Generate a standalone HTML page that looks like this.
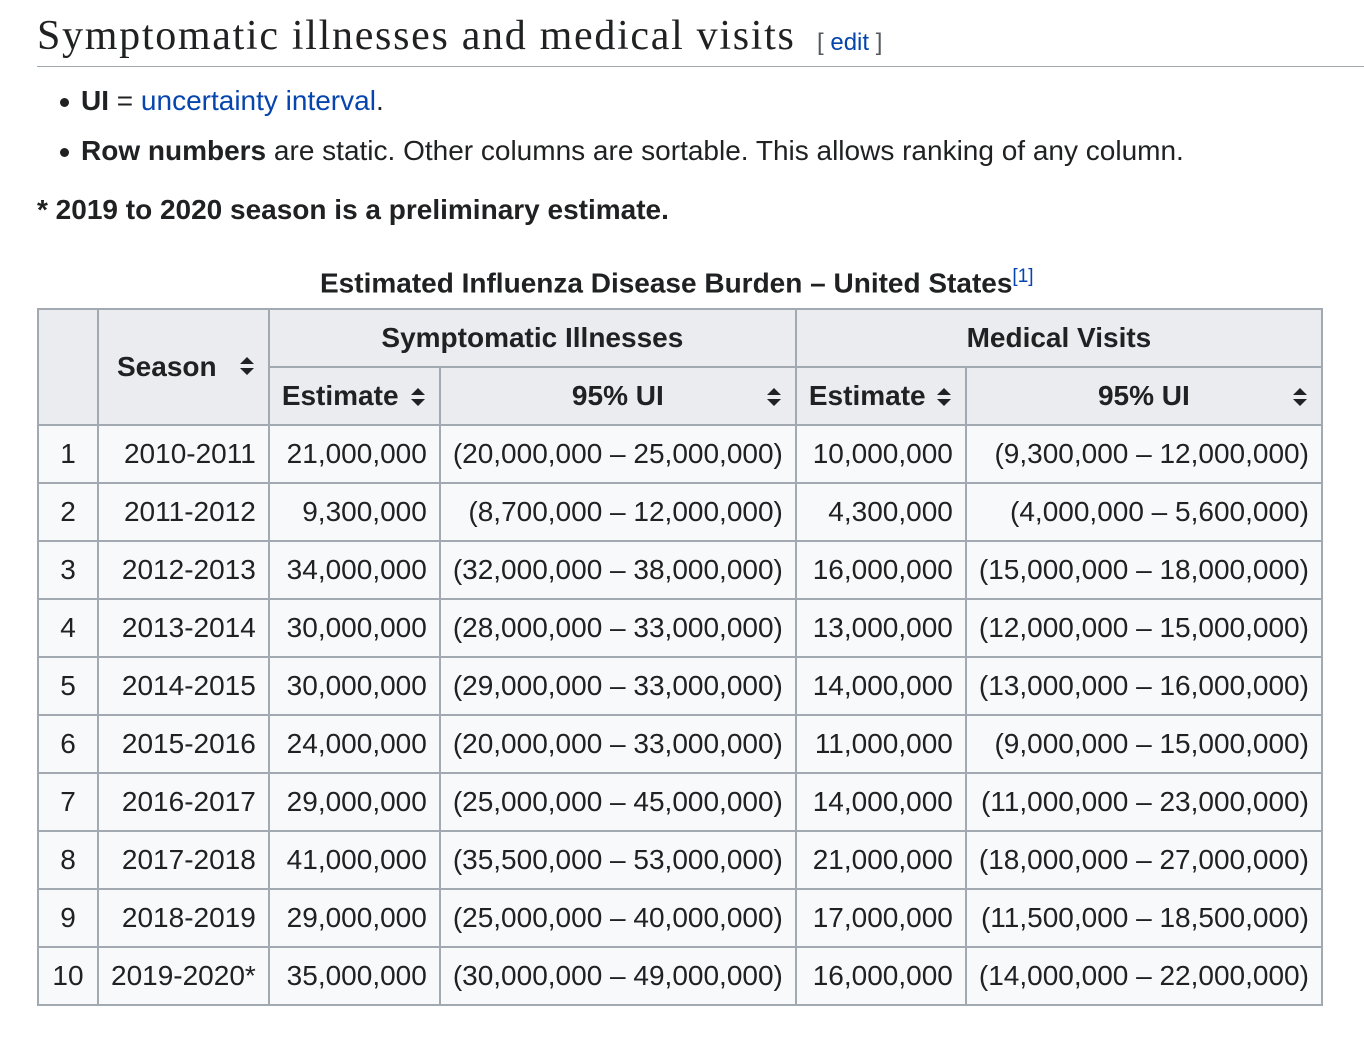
<!DOCTYPE html>
<html><head><meta charset="utf-8"><style>
body{margin:0;background:#fff;width:1364px;height:1046px;overflow:hidden;font-family:"Liberation Sans",sans-serif;color:#202122;}
.h{position:absolute;left:37px;top:12px;font-family:"Liberation Serif",serif;font-size:42px;letter-spacing:1.7px;white-space:nowrap;}
.edit{position:absolute;left:817px;top:29px;font-size:24px;color:#54595d;}
.edit a{color:#0645ad;}
.rule{position:absolute;left:37px;top:66px;width:1327px;height:1px;background:#a2a9b1;}
.t{position:absolute;font-size:28px;white-space:nowrap;}
.dot{position:absolute;width:9px;height:9px;border-radius:50%;background:#202122;}
a{color:#0645ad;text-decoration:none;}
table{position:absolute;left:37px;top:308px;border-collapse:collapse;table-layout:fixed;font-size:28px;background:#f8f9fa;}
td,th{border:2px solid #a2a9b1;padding:0 12px;height:56px;white-space:nowrap;}
th{background:#eaecf0;font-weight:bold;position:relative;}
td{text-align:right;}
td.c{text-align:center;}
.s{position:absolute;right:14px;top:20px;}
.s2{position:absolute;right:14px;top:47px;}
</style></head><body>
<div class="h">Symptomatic illnesses and medical visits</div>
<div class="edit">[ <a>edit</a> ]</div>
<div class="rule"></div>
<div class="dot" style="left:60px;top:98px"></div>
<div class="t" style="left:81px;top:85px"><b>UI</b> = <a>uncertainty interval</a>.</div>
<div class="dot" style="left:60px;top:148px"></div>
<div class="t" style="left:81px;top:135px"><b>Row numbers</b> are static. Other columns are sortable. This allows ranking of any column.</div>
<div class="t" style="left:37px;top:194px"><b>* 2019 to 2020 season is a preliminary estimate.</b></div>
<div class="t" style="left:320px;top:266px"><b>Estimated Influenza Disease Burden – United States</b><sup style="font-size:19px;color:#0645ad">[1]</sup></div>
<table>
<colgroup><col style="width:60px"><col style="width:168px"><col style="width:171px"><col style="width:354px"><col style="width:170px"><col style="width:354px"></colgroup>
<tr><th rowspan="2"></th><th rowspan="2" style="text-align:left;padding-left:18px">Season<svg class="s2" width="14" height="18" viewBox="0 0 14 18"><path d="M7 0L14 7H0Z M7 18L0 11H14Z" fill="#202122"/></svg></th><th colspan="2">Symptomatic Illnesses</th><th colspan="2">Medical Visits</th></tr>
<tr><th style="text-align:left">Estimate<svg class="s" width="14" height="18" viewBox="0 0 14 18"><path d="M7 0L14 7H0Z M7 18L0 11H14Z" fill="#202122"/></svg></th><th>95% UI<svg class="s" width="14" height="18" viewBox="0 0 14 18"><path d="M7 0L14 7H0Z M7 18L0 11H14Z" fill="#202122"/></svg></th><th style="text-align:left">Estimate<svg class="s" width="14" height="18" viewBox="0 0 14 18"><path d="M7 0L14 7H0Z M7 18L0 11H14Z" fill="#202122"/></svg></th><th>95% UI<svg class="s" width="14" height="18" viewBox="0 0 14 18"><path d="M7 0L14 7H0Z M7 18L0 11H14Z" fill="#202122"/></svg></th></tr>
<tr><td class="c">1</td><td>2010-2011</td><td>21,000,000</td><td>(20,000,000 – 25,000,000)</td><td>10,000,000</td><td>(9,300,000 – 12,000,000)</td></tr>
<tr><td class="c">2</td><td>2011-2012</td><td>9,300,000</td><td>(8,700,000 – 12,000,000)</td><td>4,300,000</td><td>(4,000,000 – 5,600,000)</td></tr>
<tr><td class="c">3</td><td>2012-2013</td><td>34,000,000</td><td>(32,000,000 – 38,000,000)</td><td>16,000,000</td><td>(15,000,000 – 18,000,000)</td></tr>
<tr><td class="c">4</td><td>2013-2014</td><td>30,000,000</td><td>(28,000,000 – 33,000,000)</td><td>13,000,000</td><td>(12,000,000 – 15,000,000)</td></tr>
<tr><td class="c">5</td><td>2014-2015</td><td>30,000,000</td><td>(29,000,000 – 33,000,000)</td><td>14,000,000</td><td>(13,000,000 – 16,000,000)</td></tr>
<tr><td class="c">6</td><td>2015-2016</td><td>24,000,000</td><td>(20,000,000 – 33,000,000)</td><td>11,000,000</td><td>(9,000,000 – 15,000,000)</td></tr>
<tr><td class="c">7</td><td>2016-2017</td><td>29,000,000</td><td>(25,000,000 – 45,000,000)</td><td>14,000,000</td><td>(11,000,000 – 23,000,000)</td></tr>
<tr><td class="c">8</td><td>2017-2018</td><td>41,000,000</td><td>(35,500,000 – 53,000,000)</td><td>21,000,000</td><td>(18,000,000 – 27,000,000)</td></tr>
<tr><td class="c">9</td><td>2018-2019</td><td>29,000,000</td><td>(25,000,000 – 40,000,000)</td><td>17,000,000</td><td>(11,500,000 – 18,500,000)</td></tr>
<tr><td class="c">10</td><td>2019-2020*</td><td>35,000,000</td><td>(30,000,000 – 49,000,000)</td><td>16,000,000</td><td>(14,000,000 – 22,000,000)</td></tr>
</table>
</body></html>
